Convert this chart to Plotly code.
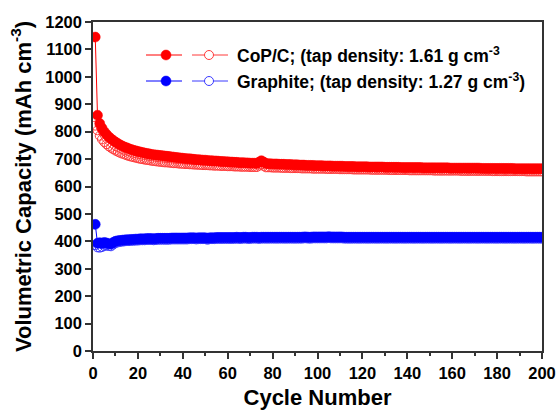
import plotly.graph_objects as go

cycles = list(range(1, 201))

cop_charge = [
    1145, 860, 830, 813, 800, 790, 781, 774, 768, 762, 757, 752, 748, 744, 741, 738, 735, 732, 730, 728,
    726, 724, 722, 720, 719, 717, 716, 715, 714, 713, 712, 711, 710, 709, 708, 707, 706, 705, 704, 703,
    702, 701, 701, 700, 699, 698, 698, 697, 696, 696, 695, 694, 694, 693, 693, 692, 691, 691, 690, 690,
    689, 689, 688, 688, 687, 687, 687, 686, 686, 685, 685, 685, 684, 689, 694, 689, 684, 683, 683, 682,
    682, 682, 681, 681, 681, 680, 680, 680, 679, 679, 679, 678, 678, 678, 677, 677, 677, 677, 676, 676,
    676, 676, 675, 675, 675, 675, 674, 674, 674, 674, 674, 673, 673, 673, 673, 673, 672, 672, 672, 672,
    672, 672, 671, 671, 671, 671, 671, 671, 671, 670, 670, 670, 670, 670, 670, 670, 669, 669, 669, 669,
    669, 669, 669, 669, 669, 669, 668, 668, 668, 668, 668, 668, 668, 668, 668, 668, 668, 668, 667, 667,
    667, 667, 667, 667, 667, 667, 667, 667, 667, 667, 667, 667, 666, 666, 666, 666, 666, 666, 666, 666,
    666, 666, 666, 666, 666, 666, 666, 665, 665, 665, 665, 665, 665, 665, 665, 665, 665, 665, 665, 665,
]

cop_discharge = [
    822, 805, 785, 772, 762, 754, 747, 741, 736, 731, 727, 723, 720, 717, 714, 711, 709, 707, 705, 703,
    701, 700, 698, 697, 696, 694, 693, 692, 691, 690, 689, 688, 688, 687, 686, 685, 685, 684, 683, 683,
    682, 682, 681, 681, 680, 680, 679, 679, 678, 678, 678, 677, 677, 676, 676, 676, 675, 675, 675, 674,
    674, 674, 673, 673, 673, 672, 672, 672, 672, 671, 671, 671, 671, 676, 680, 675, 670, 670, 670, 669,
    669, 669, 669, 668, 668, 668, 668, 667, 667, 667, 667, 667, 666, 666, 666, 666, 666, 665, 665, 665,
    665, 665, 665, 664, 664, 664, 664, 664, 664, 663, 663, 663, 663, 663, 663, 662, 662, 662, 662, 662,
    662, 662, 662, 661, 661, 661, 661, 661, 661, 661, 661, 660, 660, 660, 660, 660, 660, 660, 660, 660,
    659, 659, 659, 659, 659, 659, 659, 659, 659, 659, 659, 658, 658, 658, 658, 658, 658, 658, 658, 658,
    658, 658, 658, 657, 657, 657, 657, 657, 657, 657, 657, 657, 657, 657, 657, 657, 657, 656, 656, 656,
    656, 656, 656, 656, 656, 656, 656, 656, 656, 656, 656, 656, 655, 655, 655, 655, 655, 655, 655, 655,
]

graphite_charge = [
    462, 393, 395, 392, 396, 394, 391, 390, 396, 400, 402, 403, 404, 405, 406, 406, 407, 407, 408, 408,
    409, 409, 409, 410, 410, 410, 409, 410, 411, 411, 411, 411, 411, 411, 412, 412, 412, 412, 412, 412,
    412, 412, 413, 413, 413, 412, 413, 413, 413, 413, 411, 413, 413, 413, 414, 414, 414, 414, 414, 414,
    414, 414, 414, 415, 414, 414, 415, 415, 414, 414, 415, 415, 415, 414, 415, 415, 415, 415, 415, 415,
    415, 415, 415, 415, 415, 415, 415, 415, 415, 415, 415, 415, 415, 416, 416, 415, 415, 416, 416, 416,
    416, 416, 416, 416, 417, 416, 416, 416, 416, 416, 416, 415, 415, 415, 415, 415, 415, 415, 415, 415,
    415, 415, 415, 415, 415, 415, 415, 415, 415, 415, 415, 415, 415, 415, 415, 415, 415, 415, 415, 415,
    415, 415, 415, 415, 415, 415, 415, 415, 415, 415, 415, 415, 415, 415, 415, 415, 415, 415, 415, 415,
    415, 415, 415, 415, 415, 415, 415, 415, 415, 415, 415, 415, 415, 415, 415, 415, 415, 415, 415, 415,
    415, 415, 415, 415, 415, 415, 415, 415, 415, 415, 415, 415, 415, 415, 415, 415, 415, 415, 415, 415,
]

graphite_discharge = [
    386, 378, 377, 379, 383, 385, 383, 382, 388, 394, 396, 398, 399, 400, 401, 401, 402, 402, 403, 403,
    404, 404, 404, 405, 405, 405, 404, 405, 406, 406, 406, 406, 406, 406, 407, 407, 407, 407, 407, 407,
    407, 407, 408, 408, 408, 407, 408, 408, 408, 408, 406, 408, 408, 408, 409, 409, 409, 409, 409, 409,
    409, 409, 409, 410, 409, 409, 410, 410, 409, 409, 410, 410, 410, 409, 410, 410, 410, 410, 410, 410,
    410, 410, 410, 410, 410, 410, 410, 410, 410, 410, 410, 410, 410, 411, 411, 410, 410, 411, 411, 411,
    411, 411, 411, 411, 412, 411, 411, 411, 411, 411, 411, 410, 410, 410, 410, 410, 410, 410, 410, 410,
    410, 410, 410, 410, 410, 410, 410, 410, 410, 410, 410, 410, 410, 410, 410, 410, 410, 410, 410, 410,
    410, 410, 410, 410, 410, 410, 410, 410, 410, 410, 410, 410, 410, 410, 410, 410, 410, 410, 410, 410,
    410, 410, 410, 410, 410, 410, 410, 410, 410, 410, 410, 410, 410, 410, 410, 410, 410, 410, 410, 410,
    410, 410, 410, 410, 410, 410, 410, 410, 410, 410, 410, 410, 410, 410, 410, 410, 410, 410, 410, 410,
]

legend_labels = [
    "CoP/C; (tap density: 1.61 g cm<sup>-3</sup>",
    "Graphite; (tap density: 1.27 g cm<sup>-3</sup>)",
]
x_title = "Cycle Number"
y_title = "Volumetric Capacity (mAh cm<sup>-3</sup>)"

RED, RED_OPEN = "#ff0000", "#ff3b3b"
BLUE, BLUE_OPEN = "#0000ff", "#3a3aff"
FONT = "Liberation Sans, Arial, sans-serif"

W, H = 559, 410
L, R, T, B = 93, 17, 22, 59

fig = go.Figure()


def add_series(y, color, filled):
    fig.add_trace(go.Scatter(
        x=cycles, y=y, mode="lines+markers", showlegend=False,
        line=dict(color=color, width=1),
        marker=dict(symbol="circle" if filled else "circle-open", size=10 if filled else 9,
                    color=color, line=dict(color=color, width=1 if not filled else 0.5)),
    ))


add_series(cop_discharge, RED_OPEN, False)
add_series(cop_charge, RED, True)
add_series(graphite_discharge, BLUE_OPEN, False)
add_series(graphite_charge, BLUE, True)


# custom legend (pixel positions converted to paper coordinates)
def px(xp):
    return (xp - L) / (W - L - R)


def py(yp):
    return (H - B - yp) / (H - T - B)


shapes = []
annotations = []
for row, (label, c, co) in enumerate(zip(legend_labels, [RED, BLUE], [RED_OPEN, BLUE_OPEN])):
    yrow = py(55 + row * 26)
    shapes.append(dict(type="line", xref="paper", yref="paper", x0=px(146), x1=px(182), y0=yrow, y1=yrow,
                       line=dict(color=c, width=1)))
    shapes.append(dict(type="line", xref="paper", yref="paper", x0=px(192), x1=px(228), y0=yrow, y1=yrow,
                       line=dict(color=co, width=1)))
    shapes.append(dict(type="circle", xref="paper", yref="paper", xsizemode="pixel", ysizemode="pixel",
                       xanchor=px(166), yanchor=yrow, x0=-5, x1=5, y0=-5, y1=5,
                       fillcolor=c, line=dict(color=c, width=0.5)))
    shapes.append(dict(type="circle", xref="paper", yref="paper", xsizemode="pixel", ysizemode="pixel",
                       xanchor=px(209), yanchor=yrow, x0=-4.5, x1=4.5, y0=-4.5, y1=4.5,
                       fillcolor="white", line=dict(color=co, width=1)))
    annotations.append(dict(text=label, xref="paper", yref="paper", x=px(235), y=yrow,
                            xanchor="left", yanchor="middle", showarrow=False,
                            font=dict(family=FONT, size=17.5, color="black", weight="bold")))

axis_common = dict(
    showline=True, linecolor="#333333", linewidth=1.5, mirror=True,
    ticks="outside", ticklen=6, tickwidth=1.5, tickcolor="#333333",
    showgrid=False, zeroline=False, automargin=False,
    tickfont=dict(family=FONT, size=16.5, color="black", weight="bold"),
)

fig.update_layout(
    width=W, height=H,
    margin=dict(l=L, r=R, t=T, b=B, autoexpand=False),
    plot_bgcolor="white", paper_bgcolor="white",
    shapes=shapes, annotations=annotations,
    xaxis=dict(range=[0, 200], dtick=20, tick0=0,
               minor=dict(dtick=10, ticks="outside", ticklen=3, tickwidth=1.5, tickcolor="#333333"),
               title=dict(text=x_title, standoff=14,
                          font=dict(family=FONT, size=22, color="black", weight="bold")),
               **axis_common),
    yaxis=dict(range=[0, 1200], dtick=100, tick0=0,
               title=dict(text=y_title, standoff=8,
                          font=dict(family=FONT, size=22, color="black", weight="bold")),
               **axis_common),
)

fig.write_html("out.html")
